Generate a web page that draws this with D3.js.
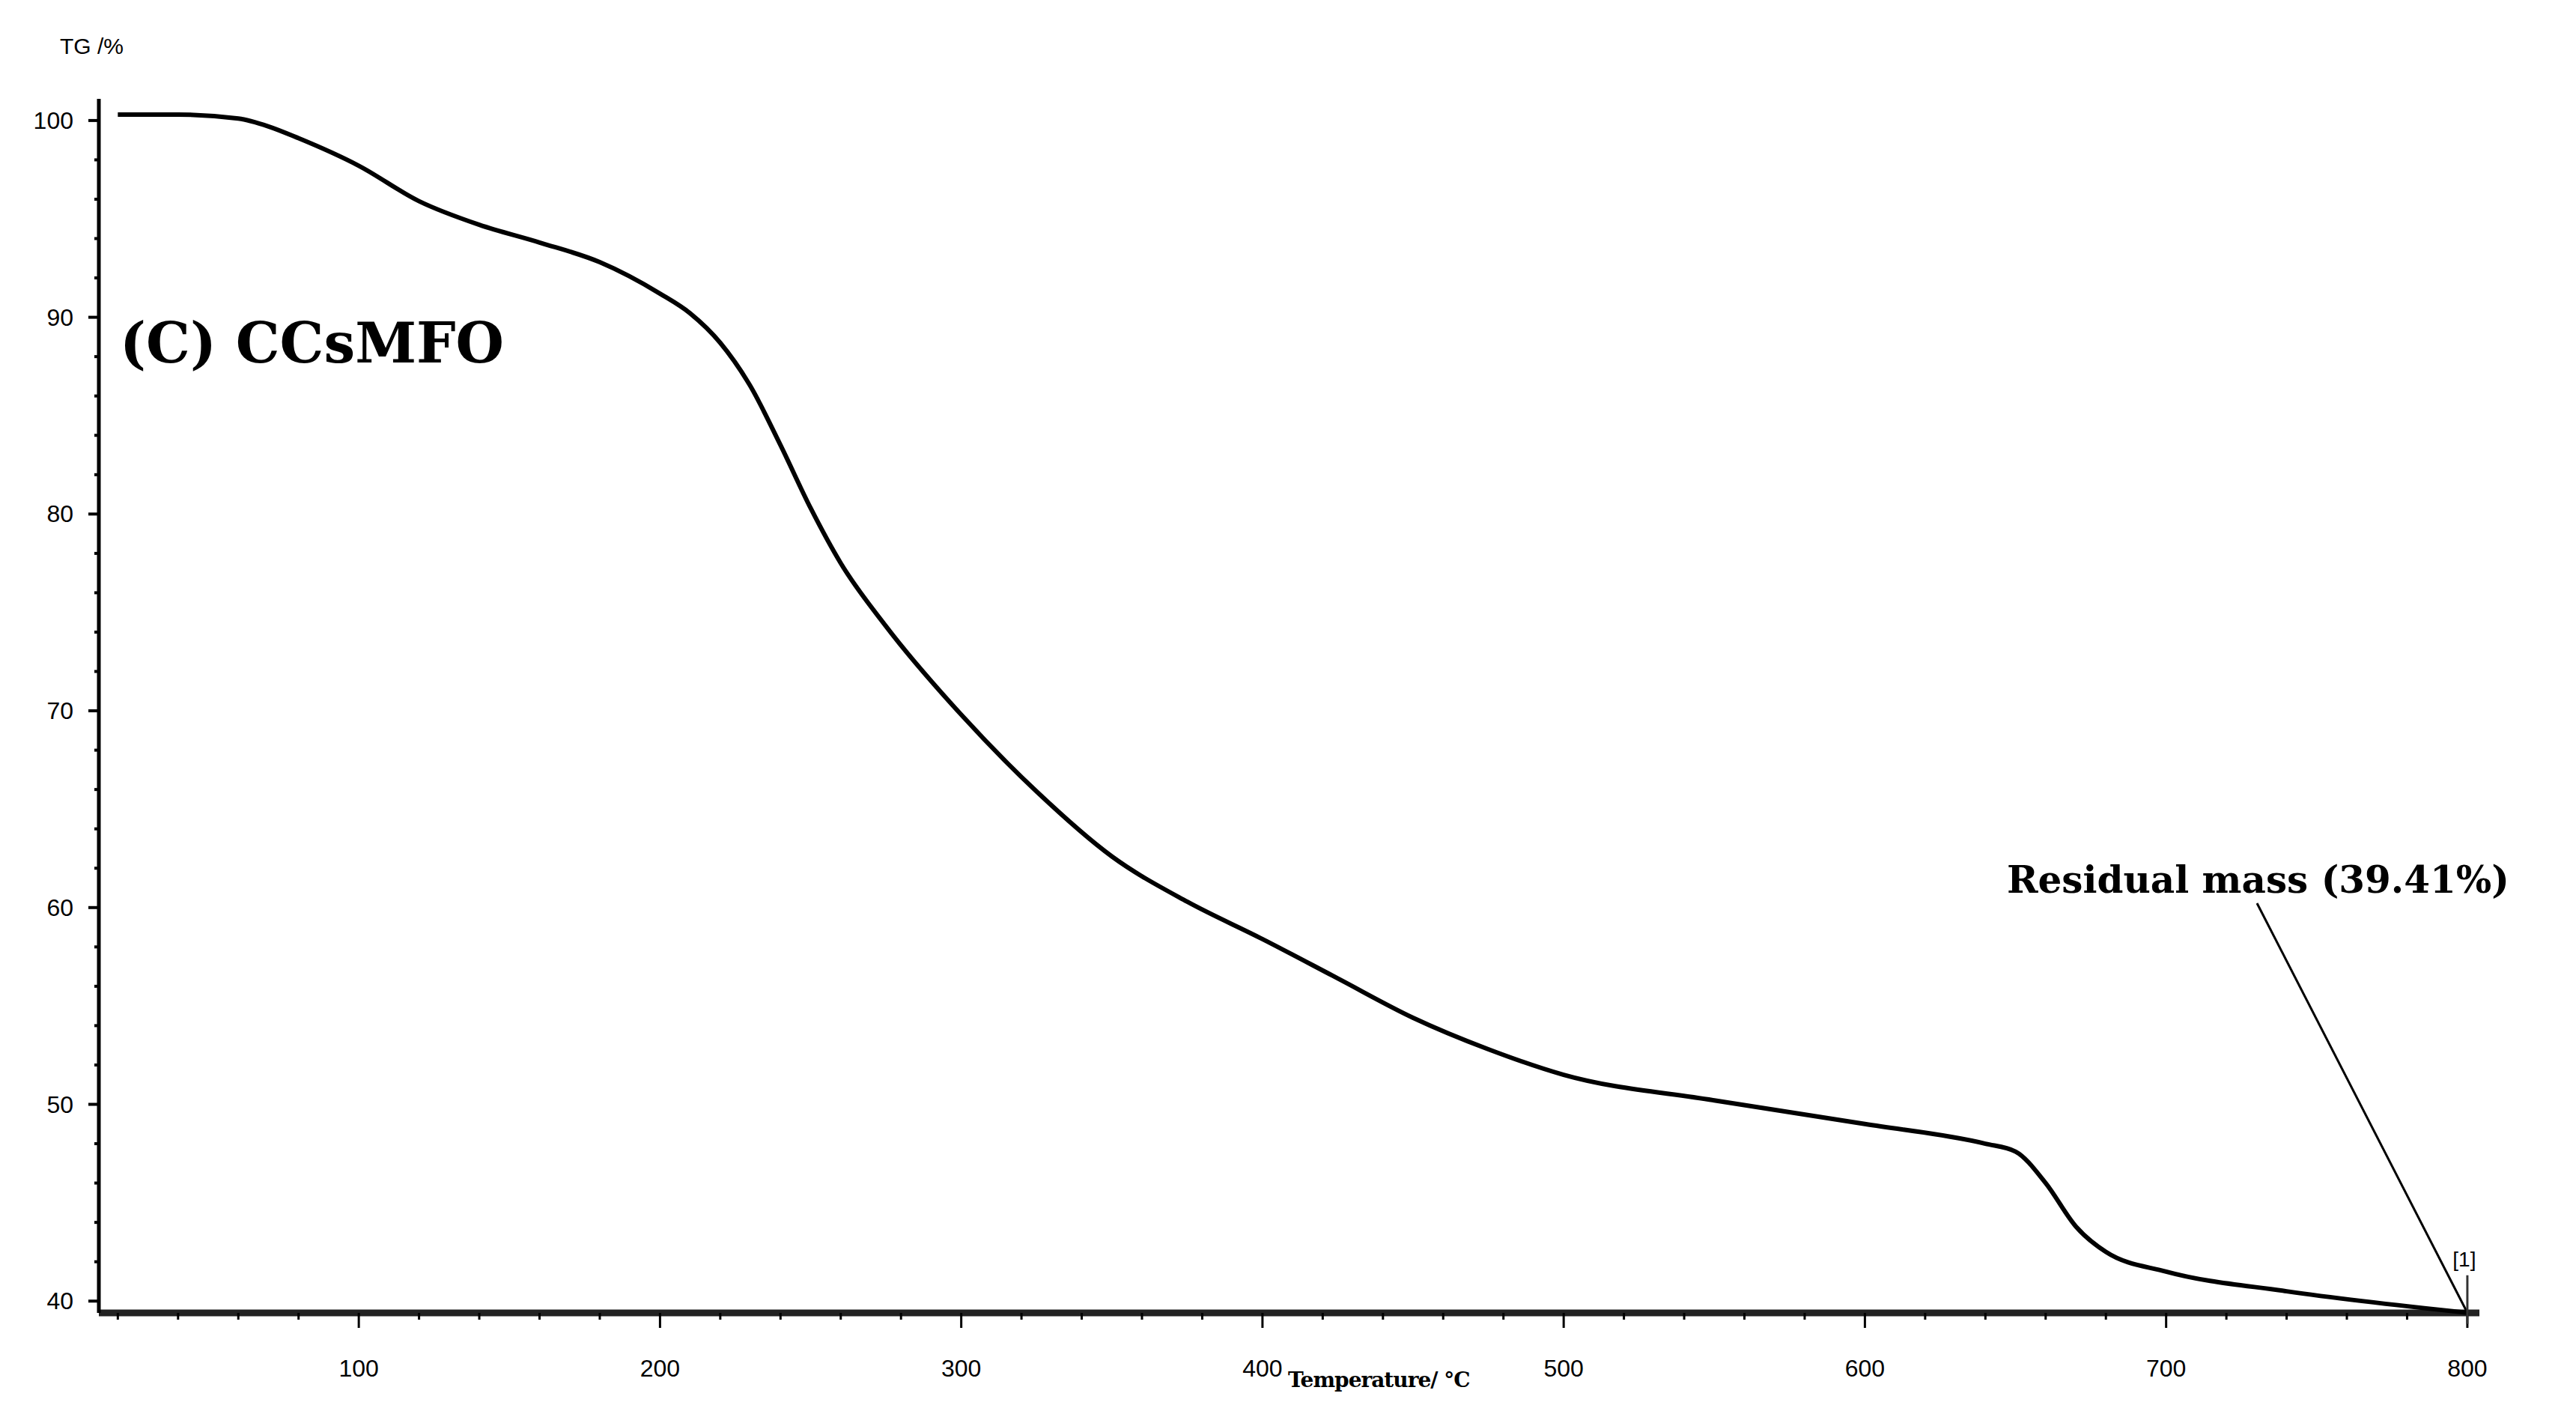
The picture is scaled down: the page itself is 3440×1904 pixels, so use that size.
<!DOCTYPE html>
<html>
<head>
<meta charset="utf-8">
<script src="https://d3js.org/d3.v7.min.js"></script>
<style>body{margin:0;background:#fff;}</style>
</head>
<body>
<div id="viz-container"></div>
<script>
// data
let temps = [20,40,60,70,80,100,120,140,160,180,200,210,220,230,240,250,260,275,300,325,350,375,400,425,450,475,500,550,600,640,650,660,670,680,700,740,800];
let tg    = [100.3,100.3,100.1,99.7,99.1,97.7,95.9,94.7,93.8,92.8,91.2,90.2,88.7,86.5,83.5,80.3,77.5,74.3,69.8,65.9,62.6,60.3,58.4,56.4,54.4,52.8,51.5,50.2,49.0,48.0,47.6,46.0,43.8,42.5,41.5,40.5,39.41];
let xTicks = [100,200,300,400,500,600,700,800];
let yTicks = [40,50,60,70,80,90,100];

let viz = d3.select("#viz-container")
    .append("svg")
    .attr("width",3440)
    .attr("height",1904)
;

let x = d3.scaleLinear().domain([13.7,804]).range([132,3311]);
let y = d3.scaleLinear().domain([39.4,101.1]).range([1753,132]);

// x axis
viz.append("line").attr("x1",132).attr("x2",3311).attr("y1",y(39.4)).attr("y2",y(39.4))
  .attr("stroke","#222").attr("stroke-width",9);
viz.selectAll(".xminor").data(d3.range(20,801,20)).enter().append("line")
  .attr("x1",d=>x(d)).attr("x2",d=>x(d))
  .attr("y1",y(39.4)).attr("y2",d=>y(39.4)+(d%100==0?20:9))
  .attr("stroke","#000").attr("stroke-width",3);
viz.selectAll(".xlab").data(xTicks).enter().append("text")
  .attr("x",d=>x(d)).attr("y",1838)
  .attr("text-anchor","middle")
  .attr("font-family","Liberation Sans Narrow, Arial Narrow, Liberation Sans").attr("font-size",32)
  .text(d=>d);

// y axis
viz.append("line").attr("x1",132).attr("x2",132).attr("y1",132).attr("y2",y(39.4))
  .attr("stroke","#000").attr("stroke-width",5);
viz.selectAll(".yminor").data(d3.range(40,101,2)).enter().append("line")
  .attr("x1",d=>132-(d%10==0?14:6)).attr("x2",132)
  .attr("y1",d=>y(d)).attr("y2",d=>y(d))
  .attr("stroke","#000").attr("stroke-width",4);
viz.selectAll(".ylab").data(yTicks).enter().append("text")
  .attr("x",98).attr("y",d=>y(d)+11)
  .attr("text-anchor","end")
  .attr("font-family","Liberation Sans Narrow, Arial Narrow, Liberation Sans").attr("font-size",32)
  .text(d=>d);
viz.append("text").attr("x",80).attr("y",72)
  .attr("font-family","Liberation Sans Narrow, Liberation Sans").attr("font-size",30).text("TG /%");

// curve
let line = d3.line().x((d,i)=>x(temps[i])).y(d=>y(d)).curve(d3.curveMonotoneX);
viz.append("path").datum(tg).attr("d",line)
  .attr("fill","none").attr("stroke","#000").attr("stroke-width",6);

// labels
viz.append("text").attr("x",160).attr("y",484)
  .attr("font-family","DejaVu Serif").attr("font-weight","bold").attr("font-size",74)
  .text("(C) CCsMFO");
viz.append("text").attr("x",1720).attr("y",1852)
  .attr("font-family","DejaVu Serif").attr("font-weight","bold").attr("font-size",28)
  .attr("letter-spacing",-1)
  .text("Temperature/ °C");
viz.append("text").attr("x",2680).attr("y",1192)
  .attr("font-family","DejaVu Serif").attr("font-weight","bold").attr("font-size",50)
  .text("Residual mass (39.41%)");

// annotation marker at 800
viz.append("line").attr("x1",3014).attr("y1",1206).attr("x2",x(800)).attr("y2",y(39.41))
  .attr("stroke","#000").attr("stroke-width",3);
viz.append("line").attr("x1",x(800)).attr("x2",x(800)).attr("y1",y(39.41)-50).attr("y2",y(39.41)+15)
  .attr("stroke","#333").attr("stroke-width",3);
viz.append("text").attr("x",x(800)-4).attr("y",y(39.41)-62)
  .attr("text-anchor","middle")
  .attr("font-family","Liberation Sans Narrow, Liberation Sans").attr("font-size",28).text("[1]");
</script>
</body>
</html>
